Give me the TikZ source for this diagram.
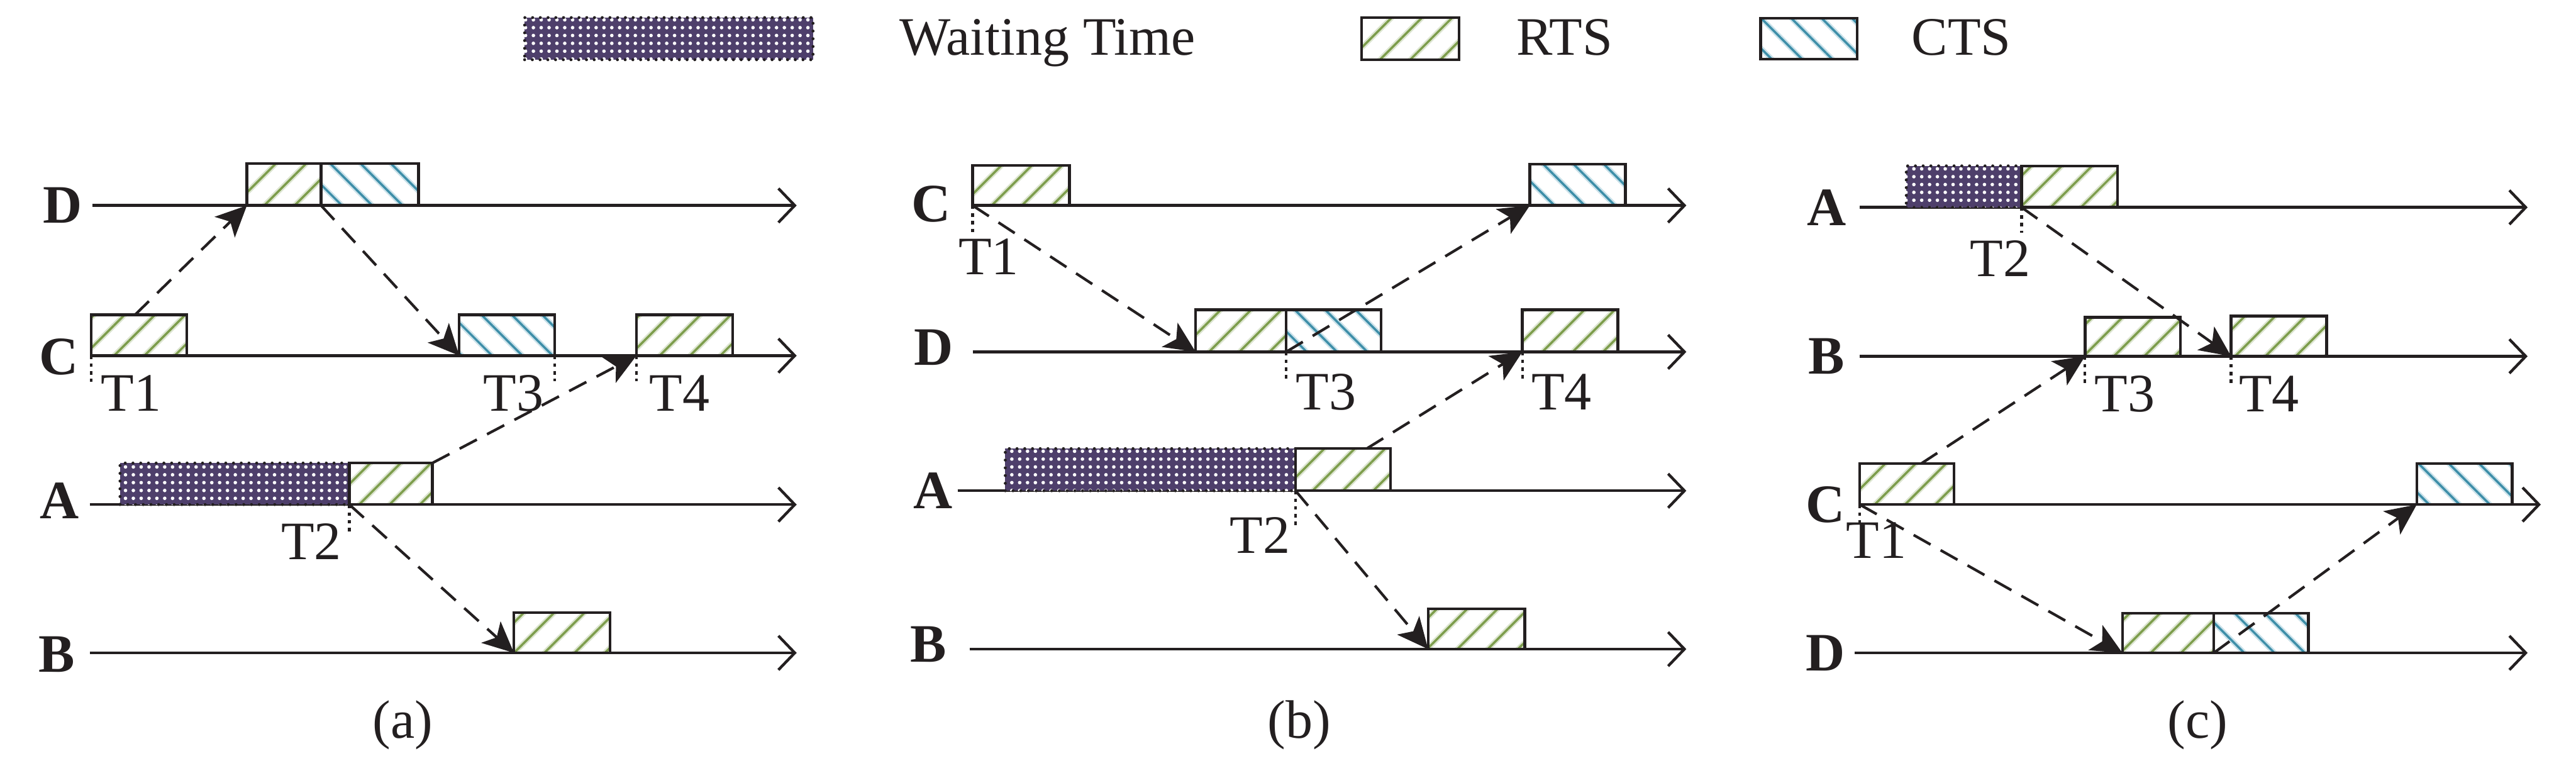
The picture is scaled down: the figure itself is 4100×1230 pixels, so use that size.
\documentclass[tikz,border=0pt]{standalone}
\usepackage{fontspec}
\setmainfont{Liberation Serif}
\usetikzlibrary{arrows.meta,patterns.meta,calc}
\definecolor{ink}{HTML}{231F20}
\definecolor{waitc}{HTML}{4E3F6B}
\definecolor{rtsc}{HTML}{7D9D4C}
\definecolor{rtsh}{HTML}{DCE5D0}
\definecolor{ctsc}{HTML}{3D8EA8}
\definecolor{ctsh}{HTML}{CBE2EA}
\newcommand\bigf{\fontsize{24.5}{29}\selectfont}
\tikzset{
  pbox/.style={draw=ink, line width=1.25pt, inner sep=0pt, outer sep=0pt,
    minimum height=0.65cm, anchor=south west},
  bw/.style={minimum width=#1*0.01cm},
  rts/.style={pbox, preaction={fill=white},
    preaction={pattern={Lines[angle=45,distance=9.7pt,line width=2.4pt]}, pattern color=rtsh},
    preaction={pattern={Lines[angle=45,distance=9.7pt,line width=1pt]}, pattern color=rtsc}},
  cts/.style={pbox, preaction={fill=white},
    preaction={pattern={Lines[angle=-45,distance=9.7pt,line width=2.4pt]}, pattern color=ctsh},
    preaction={pattern={Lines[angle=-45,distance=9.7pt,line width=1pt]}, pattern color=ctsc}},
  wait/.style={pbox, line width=1.35pt, dash pattern=on 0pt off 3.5pt, line cap=round,
    preaction={fill=waitc},
    preaction={pattern={Dots[distance=3.55pt,radius=0.8pt]}, pattern color=white}},
  axis/.style={draw=ink, line width=1.25pt, -{Straight Barb[length=7.4pt,width=15.4pt]}},
  msg/.style={draw=ink, line width=1.2pt, dash pattern=on 8.8pt off 5.2pt,
    -{Stealth[length=14pt,width=13pt,inset=3.5pt]}},
  tick/.style={draw=ink, line width=1.2pt, dash pattern=on 1.6pt off 1.9pt},
  lab/.style={font=\bigf\bfseries, text=ink, inner sep=0pt},
  tl/.style={font=\bigf, text=ink, inner sep=0pt}
}
\begin{document}
\begin{tikzpicture}[x=0.01cm,y=-0.01cm]
\useasboundingbox (0,0) rectangle (4100,1230);

% ---------------- legend ----------------
\node[wait, bw=459, minimum height=0.67cm, anchor=north west] (lgW) at (835,28) {};
\node[tl, anchor=base west] (lgWt) at (1431,88) {Waiting Time};
\node[rts, bw=155, minimum height=0.67cm, anchor=north west] (lgR) at (2167,28) {};
\node[tl, anchor=base west] (lgRt) at (2413,88) {RTS};
\node[cts, bw=154, minimum height=0.65cm, anchor=north west] (lgC) at (2802,29) {};
\node[tl, anchor=base west] (lgCt) at (3042,88) {CTS};

% ---------------- panel (a) ----------------
\node[lab] (aDl) at (100,327) {D};
\node[lab] (aCl) at (94,568) {C};
\node[lab] (aAl) at (95,797) {A};
\node[lab] (aBl) at (90,1041) {B};
\coordinate (aDs) at (147,327);  \coordinate (aDe) at (1268,327);
\coordinate (aCs) at (145,566);  \coordinate (aCe) at (1268,566);
\coordinate (aAs) at (143,803);  \coordinate (aAe) at (1268,803);
\coordinate (aBs) at (143,1039); \coordinate (aBe) at (1268,1039);
\draw[axis] (aDs) -- (aDe);
\draw[axis] (aCs) -- (aCe);
\draw[axis] (aAs) -- (aAe);
\draw[axis] (aBs) -- (aBe);
\node[rts, bw=118, minimum height=0.67cm] (aD1) at (393,327) {};
\node[cts, bw=155, minimum height=0.67cm] (aD2) at (511,327) {};
\node[rts, bw=152] (aC1) at (145,566) {};
\node[cts, bw=152] (aC2) at (731,566) {};
\node[rts, bw=153] (aC3) at (1013,566) {};
\node[wait, bw=365, minimum height=0.66cm] (aA1) at (191,803) {};
\node[rts, bw=132, minimum height=0.66cm] (aA2) at (556,803) {};
\node[rts, bw=153, minimum height=0.64cm] (aB1) at (818,1039) {};
\coordinate (aT1e) at (145,608);
\coordinate (aT3e) at (883,607);
\coordinate (aT4e) at (1013,607);
\coordinate (aT2e) at (556,850);
\draw[tick] (aC1.south west) -- (aT1e);
\draw[tick] (aC2.south east) -- (aT3e);
\draw[tick] (aC3.south west) -- (aT4e);
\draw[tick] (aA2.south west) -- (aT2e);
\node[tl, anchor=base west] (aT1) at (160,654) {T1};
\node[tl, anchor=base east] (aT3) at (866,654) {T3};
\node[tl, anchor=base west] (aT4) at (1033,654) {T4};
\node[tl, anchor=base east] (aT2) at (544,890) {T2};
\draw[msg] ($(aC1.north west)!0.46!(aC1.north east)$) -- (aD1.south west);
\draw[msg] (aD2.south west) -- (aC2.south west);
\draw[msg] (aA2.north east) -- (aC3.south west);
\draw[msg] (aA2.south west) -- (aB1.south west);
\node[tl, anchor=base] (capa) at (641,1175) {(a)};

% ---------------- panel (b) ----------------
\node[lab] (bCl) at (1482,325) {C};
\node[lab] (bDl) at (1486,553) {D};
\node[lab] (bAl) at (1485,781) {A};
\node[lab] (bBl) at (1478,1025) {B};
\coordinate (bCs) at (1548,327);  \coordinate (bCe) at (2684,327);
\coordinate (bDs) at (1548,560);  \coordinate (bDe) at (2684,560);
\coordinate (bAs) at (1524,781);  \coordinate (bAe) at (2684,781);
\coordinate (bBs) at (1543,1033); \coordinate (bBe) at (2684,1033);
\draw[axis] (bCs) -- (bCe);
\draw[axis] (bDs) -- (bDe);
\draw[axis] (bAs) -- (bAe);
\draw[axis] (bBs) -- (bBe);
\node[rts, bw=154, minimum height=0.64cm] (bC1) at (1548,327) {};
\node[cts, bw=152, minimum height=0.66cm] (bC2) at (2435,327) {};
\node[rts, bw=144, minimum height=0.67cm] (bD1) at (1903,560) {};
\node[cts, bw=151, minimum height=0.67cm] (bD2) at (2047,560) {};
\node[rts, bw=152, minimum height=0.67cm] (bD3) at (2423,560) {};
\node[wait, bw=462, minimum height=0.67cm] (bA1) at (1600,781) {};
\node[rts, bw=151, minimum height=0.67cm] (bA2) at (2062,781) {};
\node[rts, bw=154, minimum height=0.64cm] (bB1) at (2273,1033) {};
\coordinate (bT1e) at (1548,370);
\coordinate (bT3e) at (2047,607);
\coordinate (bT4e) at (2423,607);
\coordinate (bT2e) at (2062,842);
\draw[tick] (bC1.south west) -- (bT1e);
\draw[tick] (bD2.south west) -- (bT3e);
\draw[tick] (bD3.south west) -- (bT4e);
\draw[tick] (bA2.south west) -- (bT2e);
\node[tl, anchor=base west] (bT1) at (1525,437) {T1};
\node[tl, anchor=base west] (bT3) at (2062,652) {T3};
\node[tl, anchor=base west] (bT4) at (2437,652) {T4};
\node[tl, anchor=base east] (bT2) at (2054,880) {T2};
\draw[msg] (bC1.south west) -- (bD1.south west);
\draw[msg] (bD2.south west) -- (bC2.south west);
\draw[msg] ($(bA2.north west)!0.75!(bA2.north east)$) -- (bD3.south west);
\draw[msg] (bA2.south west) -- (bB1.south west);
\node[tl, anchor=base] (capb) at (2068,1175) {(b)};

% ---------------- panel (c) ----------------
\node[lab] (cAl) at (2907,330) {A};
\node[lab] (cBl) at (2907,567) {B};
\node[lab] (cCl) at (2905,803) {C};
\node[lab] (cDl) at (2905,1039) {D};
\coordinate (cAs) at (2960,330);  \coordinate (cAe) at (4023,330);
\coordinate (cBs) at (2960,567);  \coordinate (cBe) at (4023,567);
\coordinate (cCs) at (2960,803);  \coordinate (cCe) at (4044,803);
\coordinate (cDs) at (2952,1039); \coordinate (cDe) at (4023,1039);
\draw[axis] (cAs) -- (cAe);
\draw[axis] (cBs) -- (cBe);
\draw[axis] (cCs) -- (cCe);
\draw[axis] (cDs) -- (cDe);
\node[wait, bw=183.5, minimum height=0.66cm] (cA1) at (3034,330) {};
\node[rts, bw=153, minimum height=0.66cm] (cA2) at (3217.5,330) {};
\node[rts, bw=152, minimum height=0.62cm] (cB1) at (3318.5,567) {};
\node[rts, bw=152, minimum height=0.64cm] (cB2) at (3551,567) {};
\node[rts, bw=150] (cC1) at (2960,803) {};
\node[cts, bw=152] (cC2) at (3846.5,803) {};
\node[rts, bw=145.5, minimum height=0.63cm] (cD1) at (3378,1039) {};
\node[cts, bw=150.5, minimum height=0.63cm] (cD2) at (3523.5,1039) {};
\coordinate (cT2e) at (3217.5,370);
\coordinate (cT3e) at (3318.5,612);
\coordinate (cT4e) at (3551,612);
\coordinate (cT1e) at (2960,837);
\draw[tick] (cA2.south west) -- (cT2e);
\draw[tick] (cB1.south west) -- (cT3e);
\draw[tick] (cB2.south west) -- (cT4e);
\draw[tick] (cC1.south west) -- (cT1e);
\node[tl, anchor=base east] (cT2) at (3232,440) {T2};
\node[tl, anchor=base west] (cT3) at (3333,655) {T3};
\node[tl, anchor=base west] (cT4) at (3563,655) {T4};
\node[tl, anchor=base west] (cT1) at (2938,888) {T1};
\draw[msg] (cC1.south west) -- (cD1.south west);
\draw[msg] (cD2.south west) -- (cC2.south west);
\draw[msg] ($(cC1.north west)!0.65!(cC1.north east)$) -- (cB1.south west);
\draw[msg] (cA2.south west) -- (cB2.south west);
\node[tl, anchor=base] (capc) at (3498,1175) {(c)};
\end{tikzpicture}
\end{document}
